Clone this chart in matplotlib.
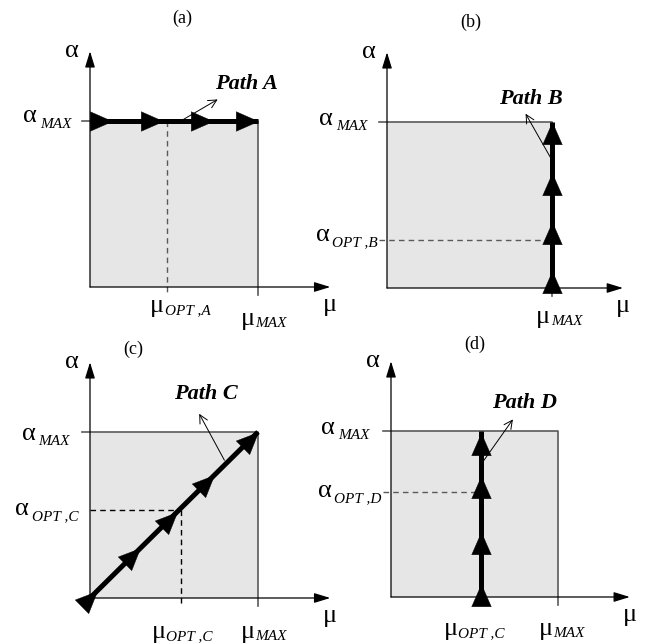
import numpy as np
import matplotlib
matplotlib.use("Agg")
import matplotlib.pyplot as plt
from matplotlib.patches import Rectangle
from matplotlib.path import Path

plt.rcParams["font.family"] = "Liberation Serif"

W, H = 652, 643

# normalised units: mu_MAX = alpha_MAX = 1
mu_max = 1.0
alpha_max = 1.0
panel_titles = ["(a)", "(b)", "(c)", "(d)"]
path_names = ["Path A", "Path B", "Path C", "Path D"]

mu_opt_a = 0.46
alpha_opt_b = 0.29
mu_opt_c = 0.54
alpha_opt_c = 0.53
alpha_opt_d = 0.63

# arrowhead tips, as fraction of the path
arrows_a = [0.13, 0.435, 0.735, 1.0]
arrows_b = [0.10, 0.40, 0.69, 1.0]
arrows_c = [0.04, 0.30, 0.52, 0.74, 1.0]
arrows_d = [0.08, 0.39, 0.73, 0.99]

# where each panel sits on the page: origin and unit length in pixels
origins = [(90, 287), (387, 288), (90, 598), (391, 597)]
units = [(168, 166), (165, 166), (168, 166), (167, 166)]

fig = plt.figure(figsize=(W / 100, H / 100), dpi=100)

BIG = 19
SMALL = 11
TICK = 0.05
BOX_EDGE = "#5a5a5a"
ALPHA = "\u03b1"
MU = "\u03bc"


def make_axes(i):
    ox, oy = origins[i]
    ux, uy = units[i]
    ax = fig.add_axes([0, 0, 1, 1])
    ax.set_xlim(-ox / ux, (W - ox) / ux)
    ax.set_ylim((oy - H) / uy, oy / uy)
    ax.axis("off")
    ax.patch.set_alpha(0)
    ax.unit = (ux, uy)
    return ax


def axes_arrows(ax, xend=1.43, yend=1.42):
    style = "-|>,head_length=0.65,head_width=0.2"
    for tip in [(xend, 0), (0, yend)]:
        ax.annotate("", xy=tip, xytext=(0, 0),
                    arrowprops=dict(arrowstyle=style, mutation_scale=15,
                                    color="k", lw=0.9, shrinkA=0, shrinkB=0))


def box(ax):
    ax.add_patch(Rectangle((0, 0), mu_max, alpha_max, fc="#e6e6e6", ec="none", zorder=0))
    ax.plot([-TICK, mu_max, mu_max], [alpha_max, alpha_max, -TICK],
            color=BOX_EDGE, lw=1.2, zorder=1)


def head_marker(angle):
    # triangle with its tip at the marker origin, pointing along angle
    pts = np.array([[0, 0], [-1, 0.44], [-1, -0.44], [0, 0]])
    c, s = np.cos(angle), np.sin(angle)
    rot = pts @ np.array([[c, s], [-s, c]])
    return Path(rot, [Path.MOVETO, Path.LINETO, Path.LINETO, Path.CLOSEPOLY])


def path(ax, start, end, fracs):
    ax.plot([start[0], end[0]], [start[1], end[1]], color="k", lw=3.6,
            solid_capstyle="butt", zorder=3)
    dx, dy = end[0] - start[0], end[1] - start[1]
    ux, uy = ax.unit
    marker = head_marker(np.arctan2(dy * uy, dx * ux))
    xs = [start[0] + f * dx for f in fracs]
    ys = [start[1] + f * dy for f in fracs]
    ax.plot(xs, ys, ls="none", marker=marker, ms=32, color="k", mew=0.3, zorder=4)


def pointer(ax, start, end, name, text_xy):
    ax.annotate("", xy=end, xytext=start,
                arrowprops=dict(arrowstyle="->,head_length=0.5,head_width=0.25",
                                mutation_scale=12, color="k", lw=0.7,
                                shrinkA=0, shrinkB=0), zorder=5)
    ax.text(text_xy[0], text_xy[1], name, fontsize=16, fontweight="bold",
            fontstyle="italic", ha="center", va="center")


def left_label(ax, x, y, sub):
    # alpha with subscript, right edge of subscript at x, subscript baseline at y
    t = ax.text(x, y, sub, fontsize=SMALL, fontstyle="italic", ha="right", va="baseline")
    ax.annotate(ALPHA, xy=(0, 0), xycoords=t, xytext=(-2, 6),
                textcoords="offset points", fontsize=BIG, ha="right", va="baseline")


def bottom_label(ax, x, y, sub):
    # mu with subscript, right edge of mu at x, mu baseline at y
    t = ax.text(x, y, MU, fontsize=BIG, ha="right", va="baseline")
    ax.annotate(sub, xy=(1, 0), xycoords=t, xytext=(0.5, 2),
                textcoords="offset points", fontsize=SMALL, fontstyle="italic",
                ha="left", va="baseline")


def axis_names(ax):
    ax.text(-0.11, 1.42, ALPHA, fontsize=BIG, ha="center", va="center")
    ax.text(1.43, -0.11, MU, fontsize=BIG, ha="center", va="center")


# (a)
ax = make_axes(0)
box(ax)
ax.plot([mu_opt_a, mu_opt_a], [alpha_max, -TICK], color=BOX_EDGE, lw=1, ls=(0, (4, 3)), zorder=2)
axes_arrows(ax)
path(ax, (0, alpha_max), (mu_max, alpha_max), arrows_a)
pointer(ax, (0.54, 1.0), (0.76, 1.13), path_names[0], (0.93, 1.22))
ax.text(0.55, 1.62, panel_titles[0], fontsize=13, ha="center", va="center")
axis_names(ax)
left_label(ax, -0.11, 0.96, "MAX")
bottom_label(ax, 0.44, -0.15, "OPT ,A")
bottom_label(ax, 0.98, -0.23, "MAX")

# (b)
ax = make_axes(1)
box(ax)
ax.plot([-TICK, mu_max], [alpha_opt_b, alpha_opt_b], color=BOX_EDGE, lw=1, ls=(0, (4, 3)), zorder=2)
axes_arrows(ax)
path(ax, (mu_max, 0), (mu_max, alpha_max), arrows_b)
pointer(ax, (1.0, 0.77), (0.84, 1.05), path_names[1], (0.87, 1.14))
ax.text(0.51, 1.6, panel_titles[1], fontsize=13, ha="center", va="center")
axis_names(ax)
left_label(ax, -0.12, 0.95, "MAX")
left_label(ax, -0.055, alpha_opt_b - 0.04, "OPT ,B")
bottom_label(ax, 0.99, -0.21, "MAX")

# (c)
ax = make_axes(2)
box(ax)
ax.plot([mu_opt_c, mu_opt_c], [alpha_opt_c, -TICK], color="k", lw=1, ls=(0, (4, 3)), zorder=2)
ax.plot([0, mu_opt_c], [alpha_opt_c, alpha_opt_c], color="k", lw=1, ls=(0, (4, 3)), zorder=2)
axes_arrows(ax)
path(ax, (0, 0), (mu_max, alpha_max), arrows_c)
pointer(ax, (0.80, 0.83), (0.65, 1.11), path_names[2], (0.69, 1.23))
ax.text(0.26, 1.5, panel_titles[2], fontsize=13, ha="center", va="center")
axis_names(ax)
left_label(ax, -0.12, 0.92, "MAX")
left_label(ax, -0.07, alpha_opt_c - 0.06, "OPT ,C")
bottom_label(ax, 0.45, -0.24, "OPT ,C")
bottom_label(ax, 0.98, -0.24, "MAX")

# (d)
ax = make_axes(3)
box(ax)
ax.plot([-TICK, mu_opt_c], [alpha_opt_d, alpha_opt_d], color=BOX_EDGE, lw=1, ls=(0, (4, 3)), zorder=2)
ax.plot([mu_opt_c, mu_opt_c], [0, -TICK], color="k", lw=1)
axes_arrows(ax)
path(ax, (mu_opt_c, 0), (mu_opt_c, alpha_max), arrows_d)
pointer(ax, (0.54, 0.80), (0.73, 1.07), path_names[3], (0.80, 1.17))
ax.text(0.5, 1.52, panel_titles[3], fontsize=13, ha="center", va="center")
axis_names(ax)
left_label(ax, -0.13, 0.95, "MAX")
left_label(ax, -0.055, alpha_opt_d - 0.06, "OPT ,D")
bottom_label(ax, 0.40, -0.23, "OPT ,C")
bottom_label(ax, 0.97, -0.23, "MAX")

fig.savefig("out.png", dpi=100)
